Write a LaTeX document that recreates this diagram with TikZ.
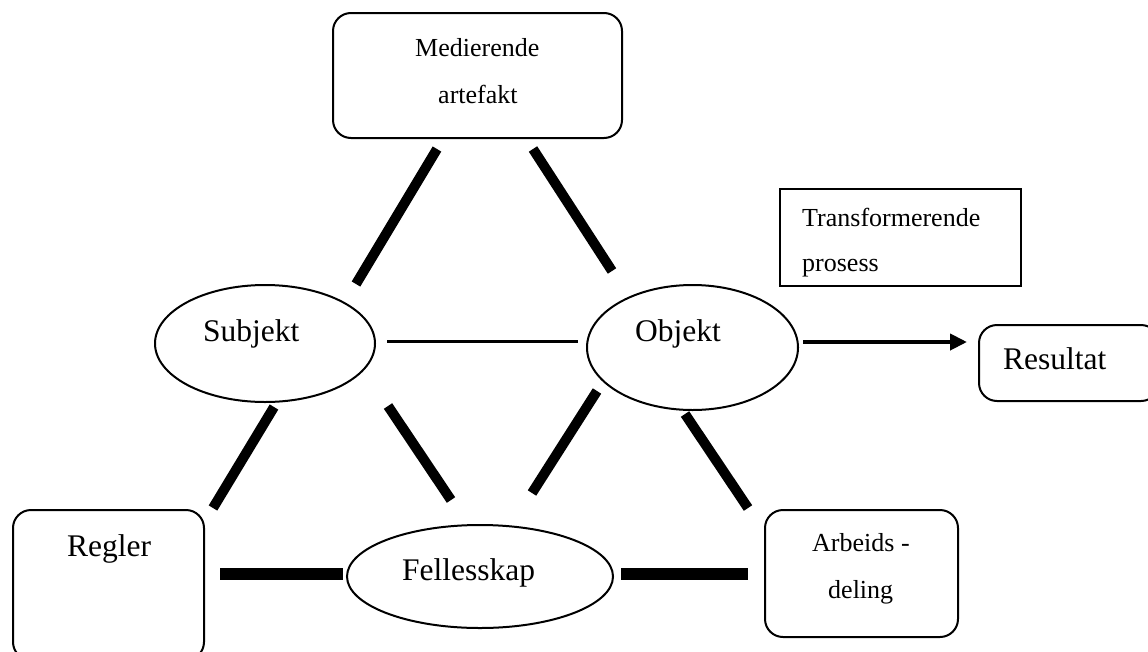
\documentclass[tikz,border=0pt]{standalone}
\usepackage{fontspec}
\setmainfont{Liberation Serif}
\usetikzlibrary{shapes.geometric,arrows.meta}

\tikzset{
  rbox/.style={draw, line width=2pt, rounded corners=18pt, inner sep=0pt},
  sbox/.style={draw, line width=2pt, inner sep=0pt},
  oval/.style={draw, ellipse, line width=2pt, inner sep=0pt},
  small/.style={font=\fontsize{26}{30}\selectfont, inner sep=0pt, anchor=base west},
  large/.style={font=\fontsize{31.5}{36}\selectfont, inner sep=0pt, anchor=base west},
  bar/.style={line width=10pt},
  slab/.style={line width=12.5pt},
  thinlink/.style={line width=3pt},
  flow/.style={line width=4pt, -{Triangle[length=17pt,width=16pt]}}
}

\begin{document}
\begin{tikzpicture}[x=1pt,y=-1pt]
  \useasboundingbox (0,0) rectangle (1148,651);
  \clip (0,0) rectangle (1148,651);

  % boxes
  \node[rbox, minimum width=289pt, minimum height=125pt] (med) at (477.5,75.5) {};
  \node[sbox, minimum width=241pt, minimum height=97pt] (trans) at (900.5,237.5) {};
  \node[rbox, minimum width=180pt, minimum height=76pt] (res) at (1069,363) {};
  \node[rbox, minimum width=191pt, minimum height=150pt] (regl) at (108.5,585) {};
  \node[rbox, minimum width=193pt, minimum height=127pt] (arb) at (861.5,573.5) {};

  % ellipses
  \node[oval, minimum width=220pt, minimum height=117pt] (subj) at (265,343.5) {};
  \node[oval, minimum width=211pt, minimum height=125pt] (obj) at (692.5,347.5) {};
  \node[oval, minimum width=266pt, minimum height=103pt] (fel) at (480,576.5) {};

  % labels
  \node[small] (medA) at (415,56) {Medierende};
  \node[small] (medB) at (438,103) {artefakt};
  \node[small] (transA) at (802,226.5) {Transformerende};
  \node[small] (transB) at (802,271.5) {prosess};
  \node[large] (resT) at (1003,369) {Resultat};
  \node[large] (subjT) at (203,341) {Subjekt};
  \node[large] (objT) at (635,341.5) {Objekt};
  \node[large] (felT) at (402,580) {Fellesskap};
  \node[large] (reglT) at (67,556.5) {Regler};
  \node[small] (arbA) at (812,551.5) {Arbeids -};
  \node[small] (arbB) at (828,598) {deling};

  % connector ends
  \coordinate (ms1) at (437,149);  \coordinate (ms2) at (356,284);
  \coordinate (mo1) at (533,149);  \coordinate (mo2) at (612,271);
  \coordinate (so1) at (387,341);  \coordinate (so2) at (578,341);
  \coordinate (or1) at (803,342);  \coordinate (or2) at (967,342);
  \coordinate (sr1) at (274,407);  \coordinate (sr2) at (213,508);
  \coordinate (sf1) at (388,406);  \coordinate (sf2) at (451,500);
  \coordinate (of1) at (597,391);  \coordinate (of2) at (532,493);
  \coordinate (oa1) at (685,414);  \coordinate (oa2) at (748,508);
  \coordinate (rf1) at (220,574);  \coordinate (rf2) at (343,574);
  \coordinate (fa1) at (621,574);  \coordinate (fa2) at (748,574);

  % connectors
  \draw[bar] (ms1) -- (ms2);
  \draw[bar] (mo1) -- (mo2);
  \draw[thinlink] (so1) -- (so2);
  \draw[flow] (or1) -- (or2);
  \draw[bar] (sr1) -- (sr2);
  \draw[bar] (sf1) -- (sf2);
  \draw[bar] (of1) -- (of2);
  \draw[bar] (oa1) -- (oa2);
  \draw[slab] (rf1) -- (rf2);
  \draw[slab] (fa1) -- (fa2);
\end{tikzpicture}
\end{document}
